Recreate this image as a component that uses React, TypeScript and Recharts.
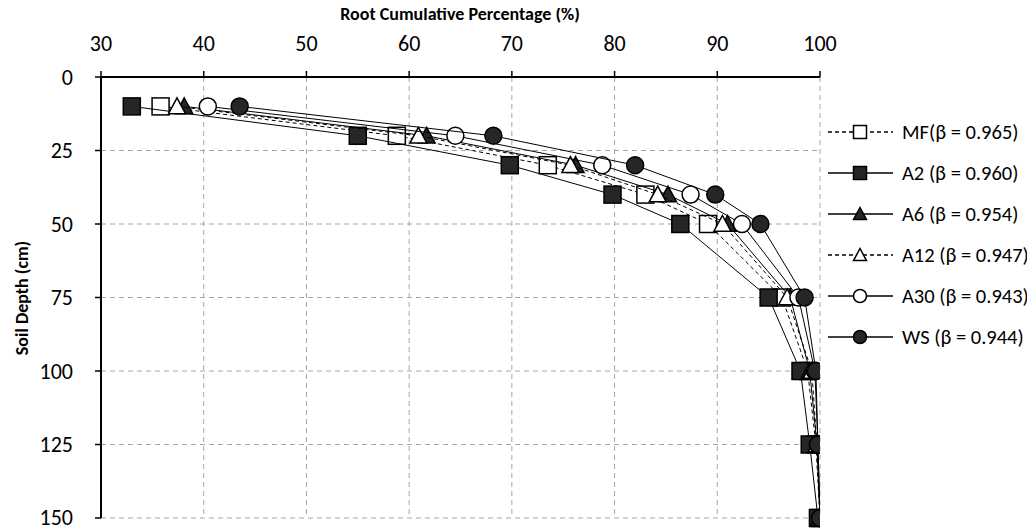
import React from "react"
import { ScatterChart, Scatter, XAxis, YAxis, CartesianGrid } from "recharts"

const depths = [10, 20, 30, 40, 50, 75, 100, 125, 150]
const mfValues = [35.8, 58.8, 73.5, 83.0, 89.1, 96.3, 98.8, 99.6, 100]
const a2Values = [33.0, 55.0, 69.8, 79.8, 86.4, 95.0, 98.1, 99.0, 99.8]
const a6Values = [38.1, 61.7, 76.2, 85.2, 91.0, 97.1, 99.0, 99.7, 100]
const a12Values = [37.4, 60.9, 75.7, 84.2, 90.5, 96.8, 99.2, 99.7, 100]
const a30Values = [40.4, 64.5, 78.8, 87.4, 92.4, 97.9, 99.5, 99.8, 100]
const wsValues = [43.5, 68.2, 82.0, 89.8, 94.2, 98.5, 99.6, 99.8, 100]

const xTicks = [30, 40, 50, 60, 70, 80, 90, 100]
const yTicks = [0, 25, 50, 75, 100, 125, 150]

const FONT = "Carlito, Lato, 'Liberation Sans', sans-serif"
const DARK = "#262626"

type Kind = "square" | "triangle" | "circle"

const series = [
  { name: "MF(β = 0.965)", values: mfValues, kind: "square" as Kind, filled: false, dashed: true },
  { name: "A2 (β = 0.960)", values: a2Values, kind: "square" as Kind, filled: true, dashed: false },
  { name: "A6 (β = 0.954)", values: a6Values, kind: "triangle" as Kind, filled: true, dashed: false },
  { name: "A12 (β = 0.947)", values: a12Values, kind: "triangle" as Kind, filled: false, dashed: true },
  { name: "A30 (β = 0.943)", values: a30Values, kind: "circle" as Kind, filled: false, dashed: false },
  { name: "WS (β = 0.944)", values: wsValues, kind: "circle" as Kind, filled: true, dashed: false }
]

const toPoints = (vals: number[]) => vals.map((v, i) => ({ pct: v, depth: depths[i] }))

const Marker = ({ kind, filled, cx, cy, size }: { kind: Kind; filled: boolean; cx: number; cy: number; size: number }) => {
  const fill = filled ? DARK : "#fff"
  const h = size / 2
  if (kind === "square")
    return <rect x={cx - h} y={cy - h} width={size} height={size} fill={fill} stroke="#000" strokeWidth={1.5} />
  if (kind === "circle")
    return <circle cx={cx} cy={cy} r={h} fill={fill} stroke="#000" strokeWidth={1.5} />
  return (
    <polygon
      points={`${cx},${cy - h} ${cx + h},${cy + h * 0.85} ${cx - h},${cy + h * 0.85}`}
      fill={fill}
      stroke="#000"
      strokeWidth={1.5}
    />
  )
}

const legendRows = [132, 173, 214, 255, 296, 337]

export default function App() {
  return (
    <div style={{ position: "relative", width: 1035, height: 530, margin: "-8px 0 0 -8px", background: "#fff" }}>
      <ScatterChart width={1035} height={530} margin={{ top: 26, right: 215, bottom: 12, left: 40 }}>
        <CartesianGrid stroke="#a6a6a6" strokeDasharray="5 4" />
        <XAxis
          type="number"
          dataKey="pct"
          orientation="top"
          domain={[30, 100]}
          ticks={xTicks}
          height={51}
          axisLine={{ stroke: "#000", strokeWidth: 2 }}
          tickLine={{ stroke: "#000", strokeWidth: 1.5 }}
          tickSize={6}
          tickMargin={20}
          tick={{ fill: "#000", fontSize: 22, fontFamily: FONT }}
          allowDataOverflow
        />
        <YAxis
          type="number"
          dataKey="depth"
          domain={[0, 150]}
          ticks={yTicks}
          reversed
          width={61}
          axisLine={{ stroke: "#000", strokeWidth: 2 }}
          tickLine={{ stroke: "#000", strokeWidth: 1.5 }}
          tickSize={6}
          tickMargin={22}
          tick={{ fill: "#000", fontSize: 22, fontFamily: FONT }}
        />
        {series.map((s) => (
          <Scatter
            key={s.name}
            name={s.name}
            data={toPoints(s.values)}
            fill="#000"
            line={{ stroke: "#000", strokeWidth: 1, strokeDasharray: s.dashed ? "4 3" : undefined }}
            shape={(p: any) => <Marker kind={s.kind} filled={s.filled} cx={p.cx} cy={p.cy} size={17} />}
            isAnimationActive={false}
          />
        ))}
      </ScatterChart>
      <svg width={1035} height={530} style={{ position: "absolute", left: 0, top: 0, pointerEvents: "none" }}>
        <text x={460} y={20} textAnchor="middle" fontFamily={FONT} fontWeight="bold" fontSize={18} fill="#000">
          Root Cumulative Percentage (%)
        </text>
        <text
          x={22}
          y={298}
          textAnchor="middle"
          dominantBaseline="central"
          transform="rotate(-90 22 298)"
          fontFamily={FONT}
          fontWeight="bold"
          fontSize={18}
          fill="#000"
        >
          Soil Depth (cm)
        </text>
        {series.map((s, i) => (
          <g key={s.name}>
            <line
              x1={828}
              x2={893}
              y1={legendRows[i]}
              y2={legendRows[i]}
              stroke={s.dashed ? "#000" : "#404040"}
              strokeWidth={s.dashed ? 1.3 : 2}
              strokeDasharray={s.dashed ? "4 3" : undefined}
            />
            <Marker kind={s.kind} filled={s.filled} cx={860} cy={legendRows[i]} size={13} />
            <text x={902} y={legendRows[i]} dominantBaseline="central" fontFamily={FONT} fontSize={20.5} fill="#000">
              {s.name}
            </text>
          </g>
        ))}
      </svg>
    </div>
  )
}
